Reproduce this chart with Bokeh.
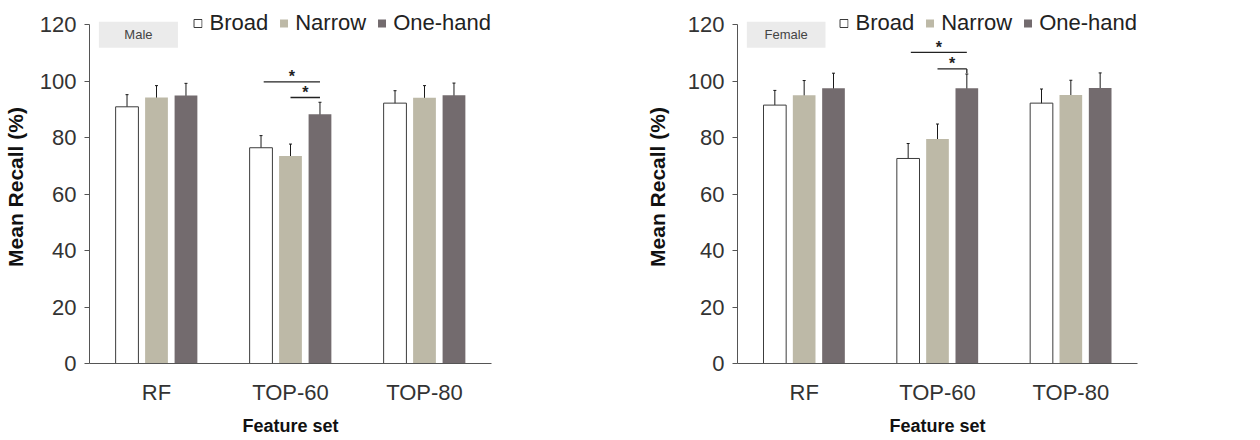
from bokeh.plotting import figure
from bokeh.models import (FactorRange, Range1d, Legend, LegendItem, Whisker, TeeHead,
                          ColumnDataSource, FixedTicker, BoxAnnotation, Label)
from bokeh.transform import dodge
from bokeh.core.properties import value
from bokeh.layouts import row
from bokeh.embed import file_html
from bokeh.resources import INLINE

categories = ["RF", "TOP-60", "TOP-80"]
series = ["Broad", "Narrow", "One-hand"]

male_broad = [90.9, 76.4, 92.2]
male_narrow = [94.2, 73.5, 94.1]
male_onehand = [94.9, 88.3, 95.0]
male_broad_err = [4.3, 4.3, 4.4]
male_narrow_err = [4.2, 4.2, 4.3]
male_onehand_err = [4.3, 4.2, 4.3]

female_broad = [91.5, 72.6, 92.2]
female_narrow = [95.0, 79.5, 95.1]
female_onehand = [97.5, 97.5, 97.6]
female_broad_err = [5.2, 5.3, 5.0]
female_narrow_err = [5.2, 5.3, 5.2]
female_onehand_err = [5.3, 5.0, 5.3]

y_ticks = [0, 20, 40, 60, 80, 100, 120]

# significance brackets: (category, from series, to series, bracket height)
male_sig = [("TOP-60", "Broad", "One-hand", 99.7), ("TOP-60", "Narrow", "One-hand", 94.2)]
female_sig = [("TOP-60", "Broad", "One-hand", 110.2), ("TOP-60", "Narrow", "One-hand", 104.3)]

FONT = "Liberation Sans"
colors = {"Broad": "white", "Narrow": "#bdb9a7", "One-hand": "#736b6e"}
offsets = {"Broad": -0.22, "Narrow": 0.0, "One-hand": 0.22}
BAR_W = 0.17


def make_panel(tag, vals, errs, sig, b_left, b_right, ylab_standoff, drop_tick):
    p = figure(x_range=FactorRange(factors=categories), y_range=Range1d(0, 125),
               width=630, height=440, output_backend="svg", toolbar_location=None,
               min_border_left=b_left, min_border_right=b_right,
               min_border_top=10, min_border_bottom=77)
    p.outline_line_color = None
    p.grid.visible = False
    p.background_fill_color = "white"

    data = {"cat": categories}
    for s in series:
        data[s] = vals[s]
        data[s + "_up"] = [v + e for v, e in zip(vals[s], errs[s])]
        data[s + "_lo"] = [v - e for v, e in zip(vals[s], errs[s])]
    src = ColumnDataSource(data)

    rends = {}
    for s in series:
        r = p.vbar(x=dodge("cat", offsets[s], range=p.x_range), top=s, width=BAR_W,
                   source=src, fill_color=colors[s],
                   line_color="#3c3c3c" if s == "Broad" else None, line_width=1)
        rends[s] = r
        w = Whisker(base=dodge("cat", offsets[s], range=p.x_range), upper=s + "_up",
                    lower=s + "_lo", source=src, line_color="#1a1a1a", line_width=1,
                    upper_head=TeeHead(size=3, line_color="#1a1a1a", line_width=1),
                    lower_head=TeeHead(size=3, line_color="#1a1a1a", line_width=1))
        p.add_layout(w)

    for i, (cat, s0, s1, h) in enumerate(sig):
        o0 = offsets[s0] + (0.02 if s0 == "Broad" else 0.0)
        o1 = offsets[s1]
        ss = ColumnDataSource(dict(cat=[cat], y=[h], star=["*"]))
        p.segment(x0=dodge("cat", o0, range=p.x_range), x1=dodge("cat", o1, range=p.x_range),
                  y0="y", y1="y", source=ss, line_color="#222222", line_width=1.3)
        if drop_tick and i == 1:
            p.segment(x0=dodge("cat", o1, range=p.x_range), x1=dodge("cat", o1, range=p.x_range),
                      y0="y", y1=h - 1.5, source=ss, line_color="#222222", line_width=1.3)
        p.text(x=dodge("cat", (o0 + o1) / 2, range=p.x_range), y="y", text="star", source=ss,
               text_font=value(FONT), text_font_size="16px", text_font_style="bold",
               text_align="center", text_baseline="middle", y_offset=-5,
               text_color="#222222")

    # tag box (Male / Female)
    p.add_layout(BoxAnnotation(left=0.07, right=0.66, bottom=111.8, top=121,
                               fill_color="#ebebeb", fill_alpha=1, line_alpha=0))
    p.add_layout(Label(x=0.365, y=116.4, text=tag, text_align="center", text_baseline="middle",
                       text_font=FONT, text_font_size="13px", text_color="#444444"))

    legend = Legend(items=[LegendItem(label=s, renderers=[rends[s]]) for s in series],
                    orientation="horizontal", location="top_right")
    legend.background_fill_alpha = 0
    legend.border_line_alpha = 0
    legend.padding = 0
    legend.margin = 0
    legend.spacing = 10
    legend.label_standoff = 7
    legend.glyph_width = 10
    legend.glyph_height = 10
    legend.label_text_font = FONT
    legend.label_text_font_size = "22px"
    legend.label_text_color = "#222222"
    p.add_layout(legend)

    ya = p.yaxis[0]
    ya.ticker = FixedTicker(ticks=y_ticks)
    ya.bounds = (0, 120)
    ya.major_tick_out = 5
    ya.major_tick_in = 0
    ya.minor_tick_out = 0
    ya.minor_tick_in = 0
    ya.axis_line_color = "#555555"
    ya.major_tick_line_color = "#555555"
    ya.major_label_text_font = FONT
    ya.major_label_text_font_size = "22px"
    ya.major_label_text_color = "#333333"
    ya.major_label_standoff = 8
    ya.axis_label = "Mean Recall (%)"
    ya.axis_label_text_font = FONT
    ya.axis_label_text_font_size = "21px"
    ya.axis_label_text_font_style = "bold"
    ya.axis_label_text_color = "#111111"
    ya.axis_label_standoff = ylab_standoff

    xa = p.xaxis[0]
    xa.major_tick_out = 0
    xa.major_tick_in = 0
    xa.axis_line_color = "#555555"
    xa.major_label_text_font = FONT
    xa.major_label_text_font_size = "22px"
    xa.major_label_text_color = "#333333"
    xa.major_label_standoff = 16
    xa.axis_label = "Feature set"
    xa.axis_label_text_font = FONT
    xa.axis_label_text_font_size = "18px"
    xa.axis_label_text_font_style = "bold"
    xa.axis_label_text_color = "#111111"
    xa.axis_label_standoff = 8
    return p


p1 = make_panel("Male",
                {"Broad": male_broad, "Narrow": male_narrow, "One-hand": male_onehand},
                {"Broad": male_broad_err, "Narrow": male_narrow_err, "One-hand": male_onehand_err},
                male_sig, 88, 139, 10, False)
p2 = make_panel("Female",
                {"Broad": female_broad, "Narrow": female_narrow, "One-hand": female_onehand},
                {"Broad": female_broad_err, "Narrow": female_narrow_err, "One-hand": female_onehand_err},
                female_sig, 107, 123, 16, True)

layout = row(p1, p2)
open("out.html", "w").write(file_html(layout, INLINE))
